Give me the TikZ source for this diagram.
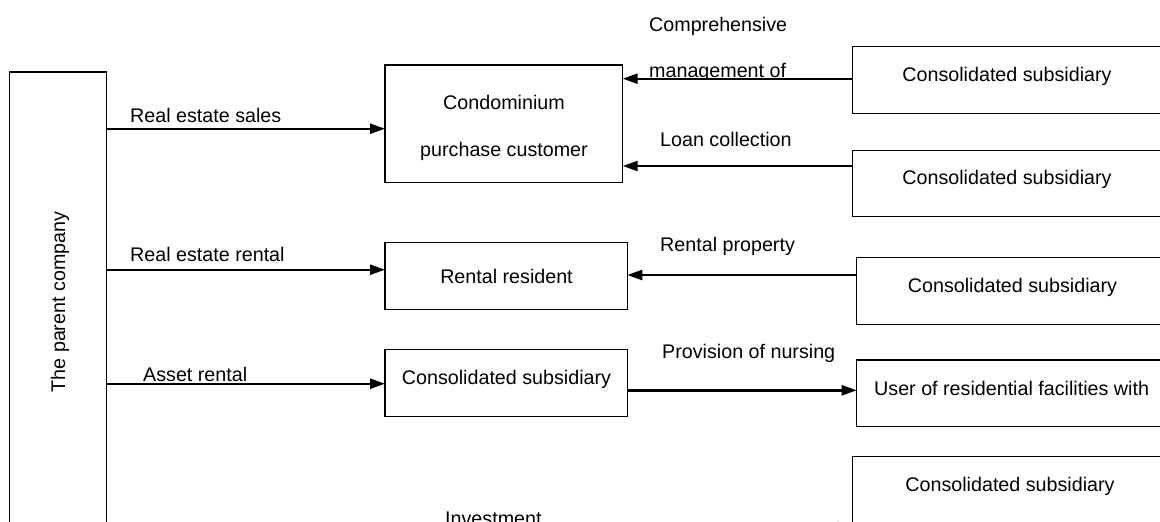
\documentclass[tikz,border=0pt]{standalone}
\usepackage{fontspec}
\setmainfont{Liberation Sans}
\usetikzlibrary{arrows.meta}
\begin{document}
\begin{tikzpicture}[x=1pt,y=-1pt,
  box/.style={draw, line width=1.4pt},
  txt/.style={inner sep=0pt, anchor=base, font=\fontsize{19.7}{23}\selectfont},
  lbl/.style={inner sep=0pt, anchor=base west, font=\fontsize{19.7}{23}\selectfont},
  arr/.style={line width=2.4pt, -{Triangle[length=15pt,width=10pt]}}]
\useasboundingbox (0,0) rectangle (1160,522);
\clip (0,0) rectangle (1160,522);
% boxes
\draw[box] (9.3,72) rectangle (106.7,532);
\coordinate (parent) at (106.7,0);
\node[rotate=90, inner sep=0pt, font=\fontsize{19.7}{23}\selectfont] (tparent) at (60,302) {The parent company};
\draw[box] (385,65) rectangle (622.7,182.7);
\coordinate (condoW) at (385,0); \coordinate (condoE) at (622.7,0);
\draw[box] (385,242.7) rectangle (627.3,309.3);
\coordinate (rresW) at (385,0); \coordinate (rresE) at (627.3,0);
\draw[box] (385,349.3) rectangle (627.3,416.7);
\coordinate (csubW) at (385,0); \coordinate (csubE) at (627.3,0);
\draw[box] (852.7,46.7) rectangle (1170,113.3);
\coordinate (s1W) at (852.7,0);
\draw[box] (852.7,150.7) rectangle (1170,216.7);
\coordinate (s2W) at (852.7,0);
\draw[box] (856.7,257.3) rectangle (1170,324.3);
\coordinate (s3W) at (856.7,0);
\draw[box] (856.7,360) rectangle (1170,426.7);
\coordinate (userW) at (856.7,0);
\draw[box] (852.7,456.7) rectangle (1170,560);
\coordinate (s5W) at (852.7,0);
% box texts
\node[txt] (tcondo1) at (504,109) {Condominium};
\node[txt] (tcondo2) at (504,156) {purchase customer};
\node[txt] (trres) at (506.5,283) {Rental resident};
\node[txt] (tcsub) at (506.5,384) {Consolidated subsidiary};
\node[txt] (ts1) at (1007,81.7) {Consolidated subsidiary};
\node[txt] (ts2) at (1007,184) {Consolidated subsidiary};
\node[txt] (ts3) at (1012.5,292) {Consolidated subsidiary};
\node[lbl] (tuser) at (874,395) {User of residential facilities with};
\node[txt] (ts5) at (1010,491.7) {Consolidated subsidiary};
% arrow rows
\coordinate (ya) at (0,128.7);
\coordinate (yb) at (0,78.7);
\coordinate (yc) at (0,166);
\coordinate (yd) at (0,269.7);
\coordinate (ye) at (0,275);
\coordinate (yf) at (0,383.7);
\coordinate (yg) at (0,390.3);
\coordinate (yh) at (0,527);
\draw[arr] (parent |- ya) -- (condoW |- ya);
\draw[arr] (s1W |- yb) -- (condoE |- yb);
\draw[arr] (s2W |- yc) -- (condoE |- yc);
\draw[arr] (parent |- yd) -- (rresW |- yd);
\draw[arr] (s3W |- ye) -- (rresE |- ye);
\draw[arr] (parent |- yf) -- (csubW |- yf);
\draw[arr] (csubE |- yg) -- (userW |- yg);
\draw[arr] (parent |- yh) -- (s5W |- yh);
% labels
\node[lbl] (l1) at (130,122.7) {Real estate sales};
\node[lbl] (l2) at (649,31) {Comprehensive};
\begin{scope}
\clip (640,40) rectangle (850,78.5);
\node[lbl] (l3) at (649,77.5) {management of};
\end{scope}
\node[lbl] (l4) at (660,146.7) {Loan collection};
\node[lbl] (l5) at (130,261.7) {Real estate rental};
\node[lbl] (l6) at (660,251) {Rental property};
\node[lbl] (l7) at (143,381.7) {Asset rental};
\node[lbl] (l8) at (662,358) {Provision of nursing};
\node[lbl] (l9) at (445,525.5) {Investment};
\end{tikzpicture}
\end{document}
